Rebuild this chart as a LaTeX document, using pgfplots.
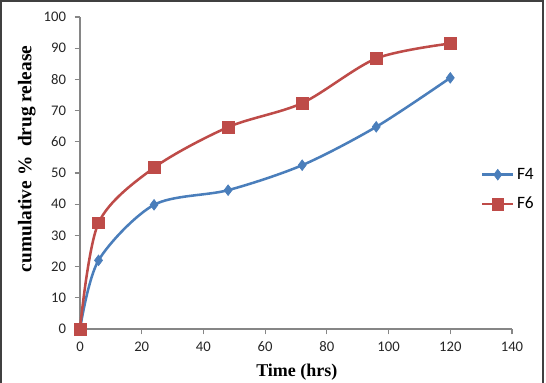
\documentclass[border=0pt]{standalone}
\usepackage{pgfplots}
\pgfplotsset{compat=1.18}
\usepackage{fontspec}
\setmainfont{Carlito}
\newfontfamily\timesfont{Liberation Serif}
\definecolor{sblue}{HTML}{4A7EBB}
\definecolor{sred}{HTML}{BE4B48}
\definecolor{axgray}{HTML}{868686}
\begin{document}
\begin{tikzpicture}[x=0.75pt,y=0.75pt]
\useasboundingbox (-80,-53) rectangle (466,329);
\draw[line width=1.2pt,black!75] (-79,-60) -- (-79,328) -- (463,328) -- (463,-60);
\begin{axis}[
  at={(0,0)}, anchor=origin,
  scale only axis, width=324pt, height=234pt,
  xmin=0, xmax=140, ymin=0, ymax=100,
  xtick={0,20,...,140}, ytick={0,10,...,100},
  axis x line*=bottom, axis y line*=left,
  axis line style={axgray, line width=0.8pt, -},
  tick style={axgray, line width=0.8pt},
  tick align=outside, major tick length=4pt,
  tick label style={font=\fontsize{11}{13}\selectfont, black!85},
  /pgf/number format/assume math mode=true,
  xticklabel style={yshift=-2pt},
  yticklabel style={xshift=-3pt},
  xlabel={\timesfont\bfseries Time (hrs)},
  ylabel={\timesfont\bfseries cumulative \%\ \ drug release},
  xlabel style={font=\fontsize{13.5}{15}\selectfont, at={(rel axis cs:0.502,-0.138)}, anchor=center},
  ylabel style={font=\fontsize{14.5}{16}\selectfont, at={(rel axis cs:-0.123,0.545)}, anchor=center, rotate=0},
  clip=false,
  legend style={at={(rel axis cs:0.928,0.525)}, anchor=north west, draw=none, fill=none,
    font=\fontsize{13}{15}\selectfont, row sep=8pt, inner sep=0pt},
  legend cell align=left,
  legend image code/.code={\draw[#1, mark repeat=2, mark phase=2] plot coordinates {(0pt,0pt) (11.5pt,0pt) (23pt,0pt)};},
]
\addplot[sblue, line width=1.9pt, smooth, tension=0.5, mark=diamond*, mark size=4pt, mark options={solid, fill=sblue, line width=0.5pt}]
  coordinates {(0,0) (6,22) (24,39.8) (48,44.5) (72,52.5) (96,64.8) (120,80.5)};
\addlegendentry{F4}
\addplot[sred, line width=1.9pt, smooth, tension=0.5, mark=square*, mark size=4.4pt, mark options={solid, fill=sred, line width=0.5pt}]
  coordinates {(0,0) (6,34) (24,51.7) (48,64.7) (72,72.4) (96,86.7) (120,91.5)};
\addlegendentry{F6}
\end{axis}
\end{tikzpicture}
\end{document}
